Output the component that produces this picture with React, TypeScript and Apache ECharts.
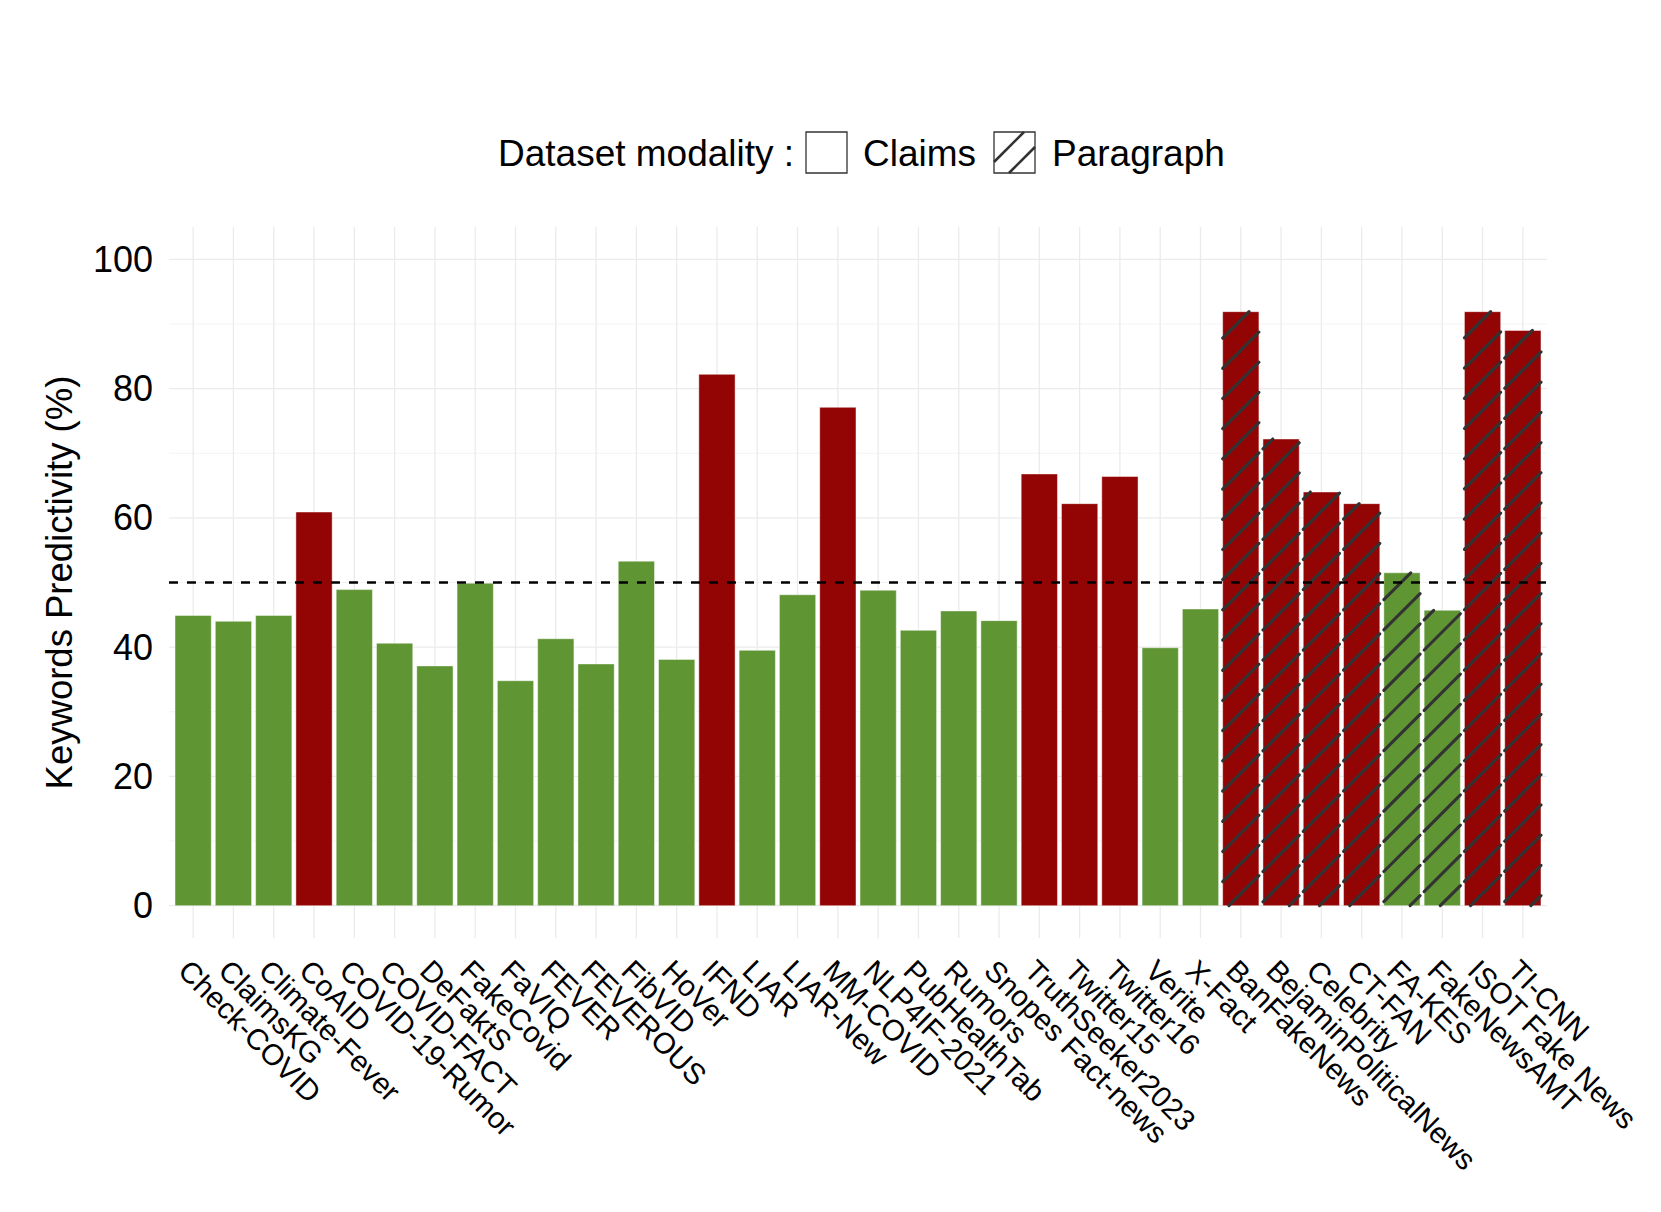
import React, { useEffect, useRef } from "react";
import * as echarts from "echarts";

const categories = [
  "Check-COVID", "ClaimsKG", "Climate-Fever", "CoAID", "COVID-19-Rumor", "COVID-FACT",
  "DeFaktS", "FakeCovid", "FaVIQ", "FEVER", "FEVEROUS", "FibVID", "HoVer", "IFND",
  "LIAR", "LIAR-New", "MM-COVID", "NLP4IF-2021", "PubHealthTab", "Rumors",
  "Snopes Fact-news", "TruthSeeker2023", "Twitter15", "Twitter16", "Verite", "X-Fact",
  "BanFakeNews", "BejaminPoliticalNews", "Celebrity", "CT-FAN", "FA-KES",
  "FakeNewsAMT", "ISOT Fake News", "TI-CNN",
];
const values = [
  44.9, 44.0, 44.9, 60.9, 48.9, 40.6,
  37.1, 49.9, 34.8, 41.3, 37.4, 53.3, 38.1, 82.2,
  39.5, 48.1, 77.1, 48.8, 42.6, 45.6,
  44.1, 66.8, 62.2, 66.4, 39.9, 45.9,
  91.9, 72.2, 64.0, 62.2, 51.5,
  45.7, 91.9, 89.0,
];
// "hi" = dark red bars, "lo" = green bars
const colorGroups = [
  "lo", "lo", "lo", "hi", "lo", "lo",
  "lo", "lo", "lo", "lo", "lo", "lo", "lo", "hi",
  "lo", "lo", "hi", "lo", "lo", "lo",
  "lo", "hi", "hi", "hi", "lo", "lo",
  "hi", "hi", "hi", "hi", "lo",
  "lo", "hi", "hi",
];
const modality = [
  "Claims", "Claims", "Claims", "Claims", "Claims", "Claims",
  "Claims", "Claims", "Claims", "Claims", "Claims", "Claims", "Claims", "Claims",
  "Claims", "Claims", "Claims", "Claims", "Claims", "Claims",
  "Claims", "Claims", "Claims", "Claims", "Claims", "Claims",
  "Paragraph", "Paragraph", "Paragraph", "Paragraph", "Paragraph",
  "Paragraph", "Paragraph", "Paragraph",
];
const yTickLabels = [0, 20, 40, 60, 80, 100];
const majorGridValues = [0, 20, 40, 60, 80, 100];
const minorGridValues = [10, 30, 50, 70, 90];
const thresholdValues = [50];
const legendTitle = "Dataset modality :";
const legendItems = ["Claims", "Paragraph"];
const yAxisTitle = "Keywords Predictivity (%)";

const FONT = "'Liberation Sans', Arial, Helvetica, sans-serif";
const RED = "#930404";
const GREEN = "#5F9533";
const HATCH = "#333333";
const GRID_MAJOR = "#EBEBEB";
const GRID_MINOR = "#F3F3F3";

export default function App() {
  const ref = useRef<HTMLDivElement>(null);

  useEffect(() => {
    if (!ref.current) return;
    const chart = echarts.init(ref.current, undefined, { renderer: "svg" });

    const panelExtent = (params: any, api: any) => {
      const cs = params.coordSys;
      const band = api.size([1, 0])[0];
      return { left: cs.x - 0.1 * band, right: cs.x + cs.width + 0.1 * band, top: cs.y, bottom: cs.y + cs.height, band };
    };

    const gridData = [
      ...majorGridValues.map((v) => [categories[0], v, 1]),
      ...minorGridValues.map((v) => [categories[0], v, 0]),
    ];

    const legendText = (text: string, x: number) => ({
      type: "text",
      x,
      y: 153,
      style: { text, fontSize: 37, fontFamily: FONT, fill: "#000", align: "left", verticalAlign: "middle" },
    });

    const option: any = {
      animation: false,
      backgroundColor: "#ffffff",
      grid: { left: 173, right: 118, top: 227, bottom: 274, containLabel: false },
      xAxis: {
        type: "category",
        data: categories,
        boundaryGap: true,
        axisLine: { show: false, onZero: false },
        axisTick: { show: false },
        splitLine: { show: false },
        axisLabel: {
          interval: 0,
          rotate: -45,
          margin: 18,
          fontSize: 29.5,
          lineHeight: 26,
          verticalAlign: "top",
          fontFamily: FONT,
          color: "#000",
        },
      },
      yAxis: {
        type: "value",
        min: -5,
        max: 105,
        interval: 5,
        axisLine: { show: false },
        axisTick: { show: false },
        splitLine: { show: false },
        axisLabel: {
          margin: 20,
          fontSize: 36,
          fontFamily: FONT,
          color: "#000",
          formatter: (v: number) => (yTickLabels.includes(v) ? String(v) : ""),
        },
        name: yAxisTitle,
        nameLocation: "middle",
        nameGap: 95,
        nameTextStyle: { fontSize: 36.5, fontFamily: FONT, color: "#000" },
      },
      series: [
        {
          type: "custom",
          name: "hgrid",
          z: 1,
          silent: true,
          data: gridData,
          encode: { x: 0, y: 1 },
          renderItem: (params: any, api: any) => {
            const p = panelExtent(params, api);
            const y = api.coord([0, api.value(1)])[1];
            const major = api.value(2) === 1;
            return {
              type: "line",
              shape: { x1: p.left, y1: y, x2: p.right, y2: y },
              style: { stroke: major ? GRID_MAJOR : GRID_MINOR, lineWidth: major ? 1.3 : 1 },
            };
          },
        },
        {
          type: "custom",
          name: "vgrid",
          z: 1,
          silent: true,
          data: categories.map((c) => [c, 0]),
          encode: { x: 0, y: 1 },
          renderItem: (params: any, api: any) => {
            const p = panelExtent(params, api);
            const x = api.coord([api.value(0), 0])[0];
            return {
              type: "line",
              shape: { x1: x, y1: p.top, x2: x, y2: p.bottom },
              style: { stroke: GRID_MAJOR, lineWidth: 1.3 },
            };
          },
        },
        {
          type: "custom",
          name: "bars",
          z: 2,
          data: categories.map((c, i) => [c, values[i]]),
          encode: { x: 0, y: 1 },
          renderItem: (params: any, api: any) => {
            const i = params.dataIndex;
            const p = panelExtent(params, api);
            const band = p.band;
            const w = band * 0.9;
            const [cx, top] = api.coord([api.value(0), api.value(1)]);
            const base = api.coord([api.value(0), 0])[1];
            const x0 = cx - w / 2;
            const x1 = cx + w / 2;
            const y0 = top;
            const y1 = base;
            const children: any[] = [
              {
                type: "rect",
                shape: { x: x0, y: y0, width: w, height: y1 - y0 },
                style: {
                  fill: colorGroups[i] === "hi" ? RED : GREEN,
                  stroke: "rgba(255,255,255,0.45)",
                  lineWidth: 1,
                },
              },
            ];
            if (modality[i] === "Paragraph") {
              const spacing = 30.2;
              const anchor = p.left + base + 2.9;
              const kStart = Math.ceil((x0 + y0 - anchor) / spacing);
              const kEnd = Math.floor((x1 + y1 - anchor) / spacing);
              for (let k = kStart; k <= kEnd; k++) {
                const c = anchor + k * spacing;
                const xa = Math.max(x0, c - y1);
                const xb = Math.min(x1, c - y0);
                if (xb - xa > 0.5) {
                  children.push({
                    type: "line",
                    shape: { x1: xa, y1: c - xa, x2: xb, y2: c - xb },
                    style: { stroke: HATCH, lineWidth: 3.1, lineCap: "round" },
                  });
                }
              }
            }
            return { type: "group", children };
          },
        },
        {
          type: "custom",
          name: "threshold",
          z: 3,
          silent: true,
          data: thresholdValues.map((v) => [categories[0], v]),
          encode: { x: 0, y: 1 },
          renderItem: (params: any, api: any) => {
            const p = panelExtent(params, api);
            const y = api.coord([0, api.value(1)])[1];
            return {
              type: "line",
              shape: { x1: p.left, y1: y, x2: p.right, y2: y },
              style: { stroke: "#000", lineWidth: 2.3, lineDash: [9, 9] },
            };
          },
        },
      ],
      graphic: [
        legendText(legendTitle, 498),
        {
          type: "rect",
          shape: { x: 806, y: 132, width: 41, height: 41 },
          style: { fill: "#fff", stroke: "#333", lineWidth: 1.3 },
        },
        legendText(legendItems[0], 863),
        {
          type: "rect",
          shape: { x: 994, y: 132, width: 41, height: 41 },
          style: { fill: "#fff", stroke: "#333", lineWidth: 1.3 },
        },
        {
          type: "line",
          shape: { x1: 994, y1: 132 + 30, x2: 994 + 30, y2: 132 },
          style: { stroke: HATCH, lineWidth: 2.6 },
        },
        {
          type: "line",
          shape: { x1: 994 + 15, y1: 132 + 41, x2: 994 + 41, y2: 132 + 15 },
          style: { stroke: HATCH, lineWidth: 2.6 },
        },
        legendText(legendItems[1], 1052),
      ],
    };

    chart.setOption(option);
    return () => chart.dispose();
  }, []);

  return (
    <div style={{ position: "absolute", left: 0, top: 0, width: 1661, height: 1212, background: "#fff" }}>
      <div ref={ref} style={{ width: 1661, height: 1212 }} />
    </div>
  );
}
